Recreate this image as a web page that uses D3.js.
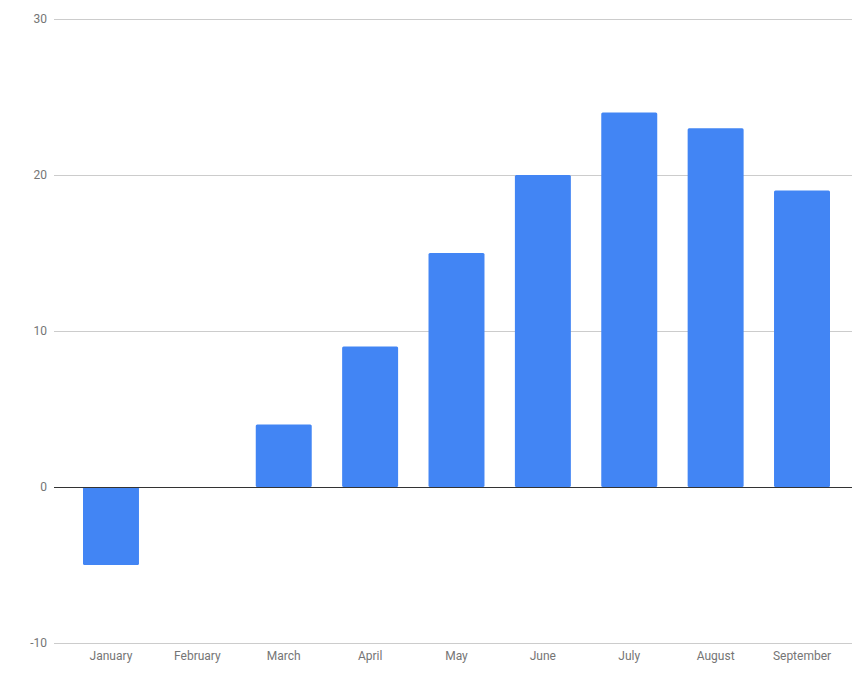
<!DOCTYPE html>
<html>
<head>
<meta charset="utf-8">
<script src="https://cdn.jsdelivr.net/npm/d3@7"></script>
<style>
  body { margin: 0; background: #fff; }
  text { font-family: Roboto, "Noto Sans", sans-serif; }
</style>
</head>
<body>
<script>
// data
var months = ["January", "February", "March", "April", "May", "June", "July", "August", "September"];
var values = [-5, 0, 4, 9, 15, 20, 24, 23, 19];
var yTicks = [-10, 0, 10, 20, 30];

var width = 852, height = 680;

var svg = d3.select("body").append("svg")
  .attr("width", width)
  .attr("height", height);

var y = d3.scaleLinear().domain([-10, 30]).range([643, 19]);

var x = d3.scaleBand()
  .domain(months)
  .range([67.8, 845.2])
  .paddingInner(0.352)
  .paddingOuter(0.176);

// gridlines
svg.append("g").selectAll("line")
  .data(yTicks.filter(function (d) { return d !== 0; }))
  .enter().append("line")
  .attr("x1", 54).attr("x2", width)
  .attr("y1", function (d) { return Math.round(y(d)) + 0.5; })
  .attr("y2", function (d) { return Math.round(y(d)) + 0.5; })
  .attr("stroke", "#cccccc")
  .attr("stroke-width", 1);

// y labels
svg.append("g").selectAll("text")
  .data(yTicks)
  .enter().append("text")
  .attr("x", 47)
  .attr("y", function (d) { return y(d); })
  .attr("dy", "0.35em")
  .attr("text-anchor", "end")
  .attr("font-size", 12)
  .attr("fill", "#757575")
  .text(function (d) { return d; });

// bars
svg.append("g").selectAll("rect")
  .data(values)
  .enter().append("rect")
  .attr("x", function (d, i) { return x(months[i]); })
  .attr("width", x.bandwidth())
  .attr("y", function (d) { return y(Math.max(0, d)); })
  .attr("height", function (d) { return Math.abs(y(d) - y(0)); })
  .attr("rx", 1.5)
  .attr("fill", "#4285f4");

// zero line
svg.append("line")
  .attr("x1", 54).attr("x2", width)
  .attr("y1", Math.round(y(0)) + 0.5)
  .attr("y2", Math.round(y(0)) + 0.5)
  .attr("stroke", "#333333")
  .attr("stroke-width", 1);

// x labels
svg.append("g").selectAll("text")
  .data(months)
  .enter().append("text")
  .attr("x", function (d) { return x(d) + x.bandwidth() / 2; })
  .attr("y", 660)
  .attr("text-anchor", "middle")
  .attr("font-size", 12)
  .attr("fill", "#757575")
  .text(function (d) { return d; });
</script>
</body>
</html>
